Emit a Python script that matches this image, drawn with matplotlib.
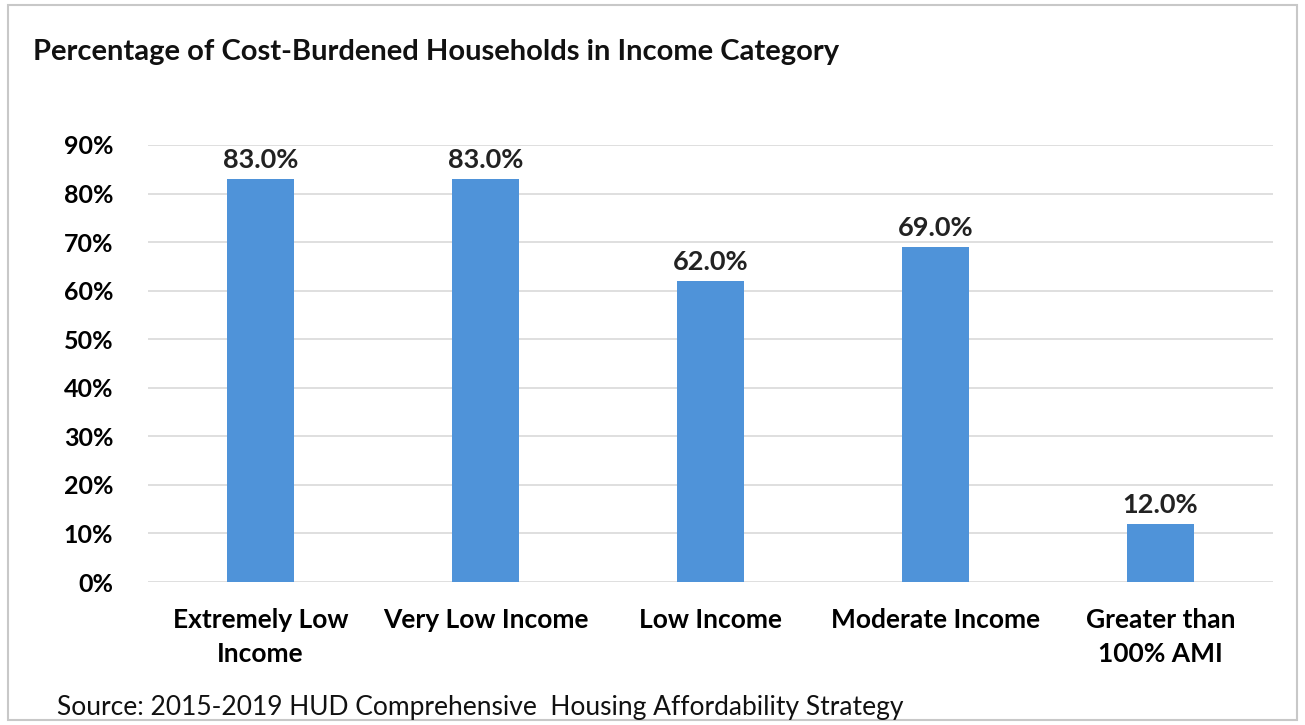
import matplotlib
matplotlib.use("Agg")
import matplotlib.pyplot as plt
from matplotlib.patches import Rectangle
from matplotlib.ticker import FuncFormatter

categories = ["Extremely Low\nIncome", "Very Low Income", "Low Income", "Moderate Income", "Greater than\n100% AMI"]
values = [83.0, 83.0, 62.0, 69.0, 12.0]
yticks = [0, 10, 20, 30, 40, 50, 60, 70, 80, 90]
title = "Percentage of Cost-Burdened Households in Income Category"
source = "Source: 2015-2019 HUD Comprehensive  Housing Affordability Strategy"

plt.rcParams['font.family'] = ['Lato', 'DejaVu Sans']

fig = plt.figure(figsize=(13.05, 7.25), dpi=100)
fig.patch.set_facecolor("white")
fig.patches.append(Rectangle((0.006, 0.007), 0.988, 0.986, transform=fig.transFigure,
                             fill=False, edgecolor="#c8c8c8", linewidth=1.5))

ax = fig.add_axes([0.1134, 0.1972, 0.862, 0.6028])
x = list(range(len(categories)))
bars = ax.bar(x, values, width=0.30, color="#4f93d9", zorder=3)
ax.set_xlim(-0.5, len(categories) - 0.5)
ax.set_ylim(0, 90)
ax.set_yticks(yticks)
ax.yaxis.set_major_formatter(FuncFormatter(lambda v, p: f"{int(v)}%"))
ax.grid(axis="y", color="#d9d9d9", linewidth=1.2, zorder=0)
for s in ax.spines.values():
    s.set_visible(False)
ax.tick_params(axis="y", length=0, labelsize=18, pad=25)
ax.tick_params(axis="x", length=0, labelsize=19, pad=19)
ax.set_xticks(x)
ax.set_xticklabels(categories, fontweight="bold", linespacing=1.5)
for lbl in ax.get_yticklabels():
    lbl.set_fontweight("bold")

for xi, v in zip(x, values):
    ax.annotate(f"{v:.1f}%", (xi, v), xytext=(0, 5), textcoords="offset points",
                ha="center", va="bottom", fontsize=19.5, fontweight="bold", color="#222222")

fig.text(0.025, 0.928, title, fontsize=21, fontweight="bold", ha="left", va="center", color="#111111")
fig.text(0.044, 0.024, source, fontsize=19, ha="left", va="center", color="#111111")

fig.savefig("out.png", dpi=100)
